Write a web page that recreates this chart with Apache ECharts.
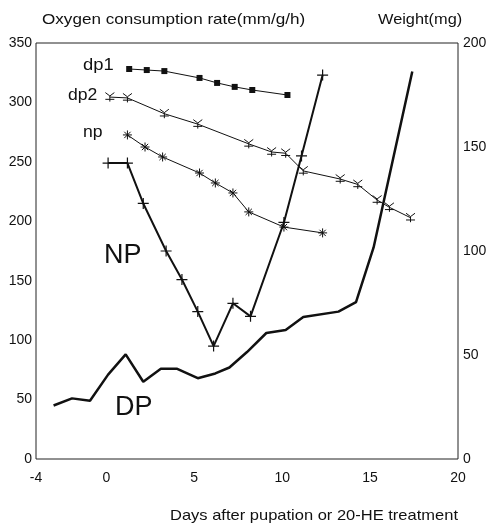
<!DOCTYPE html>
<html>
<head>
<meta charset="utf-8">
<script src="https://cdn.jsdelivr.net/npm/echarts@6/dist/echarts.min.js"></script>
<style>
  html, body { margin: 0; padding: 0; background: #fff; }
  #chart { width: 497px; height: 532px; }
</style>
</head>
<body>
<div id="chart"></div>
<script>
// oxygen consumption rate (left axis, mm/g/h)
var NPDays = [0.1, 1.2, 2.1, 3.4, 4.3, 5.2, 6.1, 7.2, 8.2, 10.1, 11.1, 12.3]
var NPRate = [249, 249, 215, 175, 151, 124, 95, 131, 120, 199, 255, 323]
var DPDays = [-3, -1.95, -0.93, 0.1, 1.1, 2.1, 3.1, 4.0, 5.2, 6.2, 7.0, 8.0, 9.1, 10.2, 11.2, 13.2, 14.2, 15.2, 17.4]
var DPRate = [45, 51, 49, 71, 88, 65, 76, 76, 68, 72, 77, 90, 106, 108.5, 119.5, 124, 132, 178, 326]

// weight (right axis, mg)
var dp1Days = [1.3, 2.3, 3.3, 5.3, 6.3, 7.3, 8.3, 10.3]
var dp1Weight = [187.5, 187, 186.5, 183.2, 180.8, 178.9, 177.4, 175]
var dp2Days = [0.2, 1.2, 3.3, 5.2, 8.1, 9.4, 10.2, 11.2, 13.3, 14.3, 15.4, 16.1, 17.3]
var dp2Weight = [174, 173.6, 166, 161, 151.5, 147.6, 147, 138.5, 134.6, 132, 124.5, 121, 116]
var npDays = [1.2, 2.2, 3.2, 5.3, 6.2, 7.2, 8.1, 10.1, 12.3]
var npWeight = [155.8, 150, 145.2, 137.5, 132.7, 127.9, 118.8, 111.5, 108.7]

var xTickLabels = [-4, 0, 5, 10, 15, 20]

var FONT = '"Liberation Sans", Arial, sans-serif'
var INK = '#111'

function pairs(xs, ys) {
    return xs.map(function (x, i) { return [x, ys[i]] })
}

// open stroke shapes for markers
var plusPath = 'path://M0 5L10 5M5 0L5 10'
var starPath = 'path://M0 5L10 5M5 0L5 10M1.5 1.5L8.5 8.5M8.5 1.5L1.5 8.5'
var yPath = 'path://M0 2L5 5L10 2M5 5L5 10M0 8L10 8'

var myChart = echarts.init(document.getElementById('chart'), null, { renderer: 'canvas' })

var option = {
    animation: false,
    backgroundColor: '#fff',
    textStyle: { fontFamily: FONT, color: INK },
    grid: {
        left: 36,
        right: 39,
        top: 43,
        bottom: 73,
        show: true,
        borderColor: '#222',
        borderWidth: 1,
        backgroundColor: 'transparent',
    },
    xAxis: {
        type: 'value',
        min: -4,
        max: 20,
        interval: 1,
        axisLine: { show: false },
        axisTick: { show: false },
        splitLine: { show: false },
        axisLabel: {
            margin: 12,
            fontSize: 14,
            fontFamily: FONT,
            color: INK,
            formatter: function (v) {
                return xTickLabels.indexOf(v) >= 0 ? String(v) : ''
            },
        },
    },
    yAxis: [
        {
            type: 'value',
            min: 0,
            max: 350,
            interval: 50,
            axisLine: { show: false },
            axisTick: { show: false },
            splitLine: { show: false },
            axisLabel: { margin: 4, fontSize: 14, fontFamily: FONT, color: INK },
        },
        {
            type: 'value',
            min: 0,
            max: 200,
            interval: 50,
            position: 'right',
            axisLine: { show: false },
            axisTick: { show: false },
            splitLine: { show: false },
            axisLabel: { margin: 5, fontSize: 14, fontFamily: FONT, color: INK },
        },
    ],
    graphic: [
        // the scanned labels are a little wider than the font, so stretch them
        { type: 'text', x: 42, y: 12, scaleX: 1.14, style: { text: 'Oxygen consumption rate(mm/g/h)', font: '15px ' + FONT, fill: INK } },
        { type: 'text', x: 378, y: 12, scaleX: 1.09, style: { text: 'Weight(mg)', font: '15px ' + FONT, fill: INK } },
        { type: 'text', x: 170, y: 508, scaleX: 1.1, style: { text: 'Days after pupation or 20-HE treatment', font: '15px ' + FONT, fill: INK } },
        { type: 'text', x: 83, y: 58, scaleX: 1.15, style: { text: 'dp1', font: '16px ' + FONT, fill: INK } },
        { type: 'text', x: 68, y: 88, scaleX: 1.1, style: { text: 'dp2', font: '16px ' + FONT, fill: INK } },
        { type: 'text', x: 83, y: 125, scaleX: 1.1, style: { text: 'np', font: '16px ' + FONT, fill: INK } },
        { type: 'text', x: 104, y: 242, style: { text: 'NP', font: '27px ' + FONT, fill: INK } },
        { type: 'text', x: 115, y: 394, style: { text: 'DP', font: '27px ' + FONT, fill: INK } },
    ],
    series: [
        {
            name: 'NP',
            type: 'line',
            yAxisIndex: 0,
            symbol: plusPath,
            symbolSize: 11,
            lineStyle: { color: INK, width: 2 },
            itemStyle: { color: 'none', borderColor: INK, borderWidth: 1.2 },
            data: pairs(NPDays, NPRate),
        },
        {
            name: 'DP',
            type: 'line',
            yAxisIndex: 0,
            showSymbol: false,
            lineStyle: { color: INK, width: 2.5 },
            data: pairs(DPDays, DPRate),
        },
        {
            name: 'dp1',
            type: 'line',
            yAxisIndex: 1,
            symbol: 'rect',
            symbolSize: 6,
            lineStyle: { color: INK, width: 1 },
            itemStyle: { color: INK },
            data: pairs(dp1Days, dp1Weight),
        },
        {
            name: 'dp2',
            type: 'line',
            yAxisIndex: 1,
            symbol: yPath,
            symbolSize: 9,
            lineStyle: { color: INK, width: 1 },
            itemStyle: { color: 'none', borderColor: INK, borderWidth: 1 },
            data: pairs(dp2Days, dp2Weight),
        },
        {
            name: 'np',
            type: 'line',
            yAxisIndex: 1,
            symbol: starPath,
            symbolSize: 9,
            lineStyle: { color: INK, width: 1 },
            itemStyle: { color: 'none', borderColor: INK, borderWidth: 1 },
            data: pairs(npDays, npWeight),
        },
    ],
}

myChart.setOption(option)
</script>
</body>
</html>
